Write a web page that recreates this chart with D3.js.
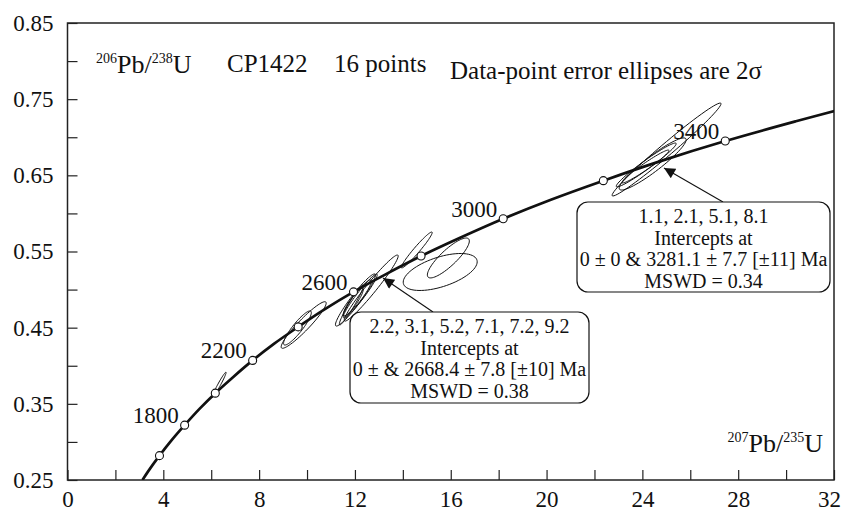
<!DOCTYPE html>
<html>
<head>
<meta charset="utf-8">
<script src="https://cdn.jsdelivr.net/npm/d3@7"></script>
<style>
  body { margin: 0; background: #fff; }
  svg text { font-family: "Liberation Serif", "Times New Roman", serif; fill: #111; }
</style>
</head>
<body>
<svg id="chart" width="842" height="512"></svg>
<script>
// concordia curve, points (207Pb/235U, 206Pb/238U)
const concX = [3.13, 3.38, 3.84, 4.34, 4.89, 5.50, 6.17, 6.91, 7.73, 8.63, 9.63, 10.73, 11.94, 13.28, 14.76, 16.39, 18.19, 20.18, 22.37, 24.79, 27.46, 30.41, 32.32];
const concY = [0.250, 0.262, 0.282, 0.302, 0.322, 0.343, 0.364, 0.385, 0.407, 0.429, 0.451, 0.474, 0.497, 0.520, 0.544, 0.568, 0.593, 0.618, 0.643, 0.669, 0.695, 0.721, 0.737];

// age markers (Ma) on the curve
const markAge = [1600, 1800, 2000, 2200, 2400, 2600, 2800, 3000, 3200, 3400];
const markX = [3.84, 4.89, 6.17, 7.73, 9.63, 11.94, 14.76, 18.19, 22.37, 27.46];
const markY = [0.282, 0.322, 0.364, 0.407, 0.451, 0.497, 0.544, 0.593, 0.643, 0.695];
const labelAges = [1800, 2200, 2600, 3000, 3400];

// data points: centre, 1 sigma errors and error correlation
const ptX   = [6.33, 9.86, 9.60, 12.68, 12.02, 12.10, 11.93, 12.22, 11.85, 14.58, 15.56, 15.90, 25.01, 24.43, 24.16, 24.13];
const ptSx  = [0.146, 0.47, 0.29, 0.563, 0.417, 0.292, 0.209, 0.355, 0.25, 0.323, 0.772, 0.438, 1.137, 0.699, 0.626, 0.49];
const ptY   = [0.375, 0.4535, 0.4496, 0.502, 0.4863, 0.489, 0.4837, 0.4916, 0.4798, 0.552, 0.5231, 0.5415, 0.6839, 0.6649, 0.6636, 0.6616];
const ptSy  = [0.0083, 0.0153, 0.0112, 0.0217, 0.0171, 0.0118, 0.0092, 0.0144, 0.0131, 0.0118, 0.01214, 0.0131, 0.0305, 0.0171, 0.0144, 0.0108];
const ptRho = [0.975, 0.94, 0.90, 0.97, 0.95, 0.93, 0.90, 0.96, 0.96, 0.968, 0.55, 0.85, 0.985, 0.93, 0.97, 0.97];

const xTicks = [0, 2, 4, 6, 8, 10, 12, 14, 16, 18, 20, 22, 24, 26, 28, 30, 32];
const xLabels = [0, 4, 8, 12, 16, 20, 24, 28, 32];
const yTicks = [0.25, 0.30, 0.35, 0.40, 0.45, 0.50, 0.55, 0.60, 0.65, 0.70, 0.75, 0.80, 0.85];
const yLabels = [0.25, 0.35, 0.45, 0.55, 0.65, 0.75, 0.85];

const boxText1 = ["2.2, 3.1, 5.2, 7.1, 7.2, 9.2", "Intercepts at", "0 ± & 2668.4 ± 7.8 [±10] Ma", "MSWD = 0.38"];
const boxText2 = ["1.1, 2.1, 5.1, 8.1", "Intercepts at", "0 ± 0 & 3281.1 ± 7.7 [±11] Ma", "MSWD = 0.34"];

const mLeft = 67.5, mRight = 834, mTop = 23, mBottom = 480;

const svg = d3.select("#chart");
const x = d3.scaleLinear().domain([0, 32]).range([mLeft, mRight]);
const y = d3.scaleLinear().domain([0.25, 0.85]).range([mBottom, mTop]);

svg.append("defs").append("clipPath").attr("id", "plotclip")
  .append("rect").attr("x", mLeft).attr("y", mTop)
  .attr("width", mRight - mLeft).attr("height", mBottom - mTop);

svg.append("defs").append("marker")
  .attr("id", "head").attr("viewBox", "0 0 10 10")
  .attr("refX", 10).attr("refY", 5)
  .attr("markerWidth", 13).attr("markerHeight", 11)
  .attr("markerUnits", "userSpaceOnUse")
  .attr("orient", "auto")
  .append("path").attr("d", "M0,0 L10,5 L0,10 Z").attr("fill", "#111");

// axes, ticks inward
const xAxis = d3.axisBottom(x).tickValues(xTicks).tickSize(-10).tickSizeOuter(0)
  .tickPadding(11).tickFormat(d => xLabels.includes(d) ? d : "");
const yAxis = d3.axisLeft(y).tickValues(yTicks).tickSize(-10).tickSizeOuter(0)
  .tickPadding(14).tickFormat(d => yLabels.some(v => Math.abs(v - d) < 1e-6) ? d3.format(".2f")(d) : "");

const gx = svg.append("g").attr("transform", `translate(0,${mBottom})`).call(xAxis);
const gy = svg.append("g").attr("transform", `translate(${mLeft},0)`).call(yAxis);
[gx, gy].forEach(g => {
  g.select(".domain").remove();
  g.selectAll("line").attr("stroke", "#222").attr("stroke-width", 1.2);
  g.selectAll("text").style("font-family", '"Liberation Serif", serif').style("font-size", "23px").attr("fill", "#111");
});
// last label sits on the page edge, nudge it in
gx.selectAll("text").filter(d => d === 32).attr("dx", -5);

svg.append("rect").attr("x", mLeft).attr("y", mTop)
  .attr("width", mRight - mLeft).attr("height", mBottom - mTop)
  .attr("fill", "none").attr("stroke", "#222").attr("stroke-width", 1.5);

const plot = svg.append("g").attr("clip-path", "url(#plotclip)");

// error ellipses (2 sigma)
const angles = d3.range(0, 73).map(i => i / 72 * 2 * Math.PI);
const ell = d3.line().curve(d3.curveLinearClosed);
ptX.forEach((cx, i) => {
  const sx = ptSx[i], sy = ptSy[i], r = ptRho[i];
  const pts = angles.map(t => [
    x(cx + 2 * sx * Math.cos(t)),
    y(ptY[i] + 2 * sy * (r * Math.cos(t) + Math.sqrt(1 - r * r) * Math.sin(t)))
  ]);
  plot.append("path").attr("d", ell(pts))
    .attr("fill", "none").attr("stroke", "#111").attr("stroke-width", 1);
});

// concordia
const conc = concX.map((v, i) => [x(v), y(concY[i])]);
plot.append("path").attr("d", d3.line().curve(d3.curveCatmullRom)(conc))
  .attr("fill", "none").attr("stroke", "#111").attr("stroke-width", 2.7);

plot.selectAll("circle.mark").data(markAge).enter().append("circle")
  .attr("class", "mark")
  .attr("cx", (d, i) => x(markX[i])).attr("cy", (d, i) => y(markY[i]))
  .attr("r", 4).attr("fill", "#fff").attr("stroke", "#111").attr("stroke-width", 1.1);

svg.selectAll("text.age").data(labelAges).enter().append("text")
  .attr("class", "age")
  .attr("x", d => x(markX[markAge.indexOf(d)]) - 6)
  .attr("y", d => y(markY[markAge.indexOf(d)]) - 2)
  .attr("text-anchor", "end").style("font-size", "23px")
  .text(d => d);

// header texts
const t1 = svg.append("text").attr("x", 96).attr("y", 73).style("font-size", "26px");
t1.append("tspan").attr("dy", -10).style("font-size", "14px").text("206");
t1.append("tspan").attr("dy", 10).text("Pb/");
t1.append("tspan").attr("dy", -10).style("font-size", "14px").text("238");
t1.append("tspan").attr("dy", 10).text("U");

svg.append("text").attr("x", 227).attr("y", 72).style("font-size", "25px").text("CP1422");
svg.append("text").attr("x", 334).attr("y", 72).style("font-size", "25px").text("16 points");
svg.append("text").attr("x", 450).attr("y", 79).style("font-size", "25px").text("Data-point error ellipses are 2σ");

const t2 = svg.append("text").attr("x", 823).attr("y", 452).attr("text-anchor", "end").style("font-size", "26px");
t2.append("tspan").attr("dy", -10).style("font-size", "14px").text("207");
t2.append("tspan").attr("dy", 10).text("Pb/");
t2.append("tspan").attr("dy", -10).style("font-size", "14px").text("235");
t2.append("tspan").attr("dy", 10).text("U");

// annotation boxes with arrows
function box(bx, by, bw, bh, lines, fromX, tipX, tipY) {
  svg.append("line").attr("x1", fromX).attr("y1", by).attr("x2", tipX).attr("y2", tipY)
    .attr("stroke", "#111").attr("stroke-width", 1.1).attr("marker-end", "url(#head)");
  svg.append("rect").attr("x", bx).attr("y", by).attr("width", bw).attr("height", bh)
    .attr("rx", 11).attr("fill", "#fff").attr("stroke", "#111").attr("stroke-width", 1.2);
  lines.forEach((s, i) => {
    svg.append("text").attr("x", bx + bw / 2).attr("y", by + 21 + i * 21.5)
      .attr("text-anchor", "middle").style("font-size", "20px").text(s);
  });
}
box(350, 312, 239, 91, boxText1, 433, 383, 278);
box(577, 202, 253, 90, boxText2, 723, 664, 168);
</script>
</body>
</html>
